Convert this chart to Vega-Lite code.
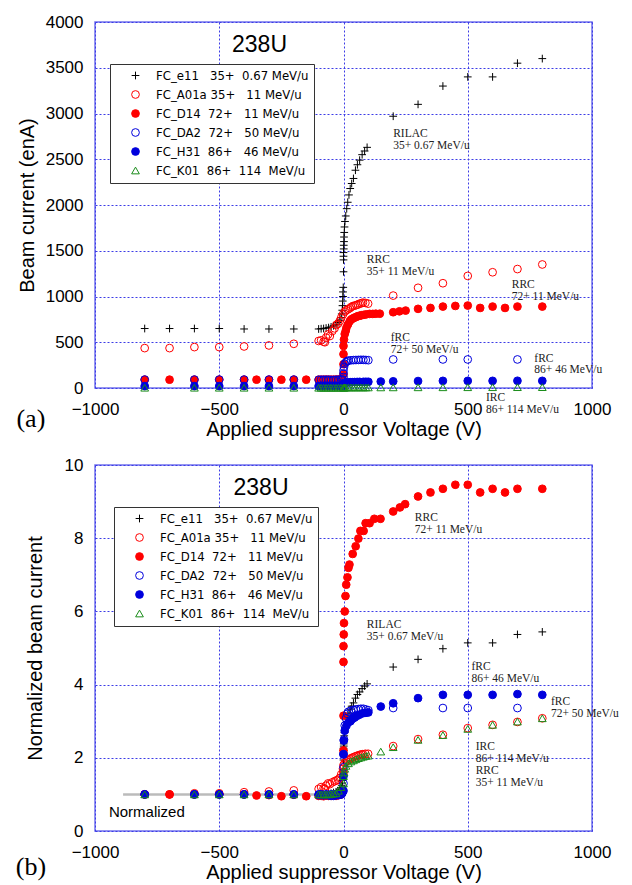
{
  "$schema": "https://vega.github.io/schema/vega-lite/v6.json",
  "background": "white",
  "padding": {"left": 14, "top": 12, "right": 5, "bottom": 5},
  "spacing": 15,
  "config": {
    "view": {"stroke": "#7272ee", "strokeWidth": 1.5},
    "axis": {"domain": false, "ticks": false, "tickSize": 0, "grid": true, "gridColor": "#3c3ce6", "gridDash": [2, 2], "gridWidth": 1, "format": "d",
      "labelFont": "Liberation Sans", "labelFontSize": 17, "labelColor": "#000000", "labelFlush": false, "labelOverlap": false,
      "titleFont": "Liberation Sans", "titleFontSize": 20, "titleFontWeight": "normal", "titleColor": "#000000"},
    "axisX": {"labelPadding": 13, "titlePadding": 2},
    "axisY": {"labelPadding": 12}
  },
  "datasets": {
    "top": [
      {"s":"e11","x":-800,"y":650},{"s":"e11","x":-700,"y":650},{"s":"e11","x":-600,"y":650},{"s":"e11","x":-500,"y":650},{"s":"e11","x":-400,"y":645},{"s":"e11","x":-300,"y":645},{"s":"e11","x":-200,"y":645},
      {"s":"e11","x":-100,"y":645},{"s":"e11","x":-90,"y":648},{"s":"e11","x":-80,"y":650},{"s":"e11","x":-70,"y":655},{"s":"e11","x":-60,"y":660},{"s":"e11","x":-50,"y":668},{"s":"e11","x":-40,"y":680},{"s":"e11","x":-30,"y":695},{"s":"e11","x":-22,"y":715},{"s":"e11","x":-15,"y":740},{"s":"e11","x":-10,"y":770},{"s":"e11","x":-7,"y":810},{"s":"e11","x":-5,"y":850},{"s":"e11","x":-4,"y":900},{"s":"e11","x":-3,"y":950},{"s":"e11","x":-2,"y":1000},{"s":"e11","x":-2,"y":1050},{"s":"e11","x":-1,"y":1100},
      {"s":"e11","x":0,"y":1270},{"s":"e11","x":0,"y":1400},{"s":"e11","x":0,"y":1440},{"s":"e11","x":0,"y":1480},{"s":"e11","x":1,"y":1520},{"s":"e11","x":1,"y":1560},{"s":"e11","x":2,"y":1600},{"s":"e11","x":2,"y":1650},{"s":"e11","x":3,"y":1700},{"s":"e11","x":4,"y":1760},{"s":"e11","x":6,"y":1820},{"s":"e11","x":9,"y":1880},{"s":"e11","x":13,"y":1960},{"s":"e11","x":17,"y":2030},{"s":"e11","x":22,"y":2110},{"s":"e11","x":27,"y":2180},{"s":"e11","x":33,"y":2235},{"s":"e11","x":40,"y":2290},{"s":"e11","x":48,"y":2380},{"s":"e11","x":56,"y":2440},{"s":"e11","x":65,"y":2490},{"s":"e11","x":75,"y":2550},{"s":"e11","x":85,"y":2590},{"s":"e11","x":95,"y":2630},
      {"s":"e11","x":200,"y":2970},{"s":"e11","x":300,"y":3100},{"s":"e11","x":400,"y":3300},{"s":"e11","x":500,"y":3400},{"s":"e11","x":600,"y":3400},{"s":"e11","x":700,"y":3550},{"s":"e11","x":800,"y":3600},

      {"s":"A01a","x":-800,"y":436},{"s":"A01a","x":-700,"y":436},{"s":"A01a","x":-600,"y":447},{"s":"A01a","x":-500,"y":447},{"s":"A01a","x":-400,"y":454},{"s":"A01a","x":-300,"y":465},{"s":"A01a","x":-200,"y":483},
      {"s":"A01a","x":-100,"y":514},{"s":"A01a","x":-90,"y":521},{"s":"A01a","x":-80,"y":506},{"s":"A01a","x":-75,"y":500},{"s":"A01a","x":-70,"y":550},{"s":"A01a","x":-62,"y":586},{"s":"A01a","x":-55,"y":568},{"s":"A01a","x":-45,"y":623},{"s":"A01a","x":-36,"y":652},{"s":"A01a","x":-29,"y":689},{"s":"A01a","x":-22,"y":703},{"s":"A01a","x":-15,"y":732},{"s":"A01a","x":-9,"y":769},{"s":"A01a","x":-2,"y":805},{"s":"A01a","x":5,"y":834},{"s":"A01a","x":11,"y":849},{"s":"A01a","x":18,"y":860},{"s":"A01a","x":25,"y":871},{"s":"A01a","x":31,"y":885},{"s":"A01a","x":38,"y":896},{"s":"A01a","x":45,"y":900},{"s":"A01a","x":52,"y":907},{"s":"A01a","x":58,"y":912},{"s":"A01a","x":65,"y":922},{"s":"A01a","x":72,"y":926},{"s":"A01a","x":78,"y":933},{"s":"A01a","x":88,"y":930},{"s":"A01a","x":99,"y":922},
      {"s":"A01a","x":200,"y":1010},{"s":"A01a","x":300,"y":1095},{"s":"A01a","x":400,"y":1145},{"s":"A01a","x":500,"y":1225},{"s":"A01a","x":600,"y":1265},{"s":"A01a","x":700,"y":1300},{"s":"A01a","x":800,"y":1350},

      {"s":"D14","x":-800,"y":91},{"s":"D14","x":-700,"y":91},{"s":"D14","x":-600,"y":91},{"s":"D14","x":-500,"y":91},{"s":"D14","x":-400,"y":91},{"s":"D14","x":-350,"y":91},{"s":"D14","x":-300,"y":91},{"s":"D14","x":-250,"y":91},{"s":"D14","x":-200,"y":91},{"s":"D14","x":-150,"y":91},{"s":"D14","x":-100,"y":91},
      {"s":"D14","x":-90,"y":91},{"s":"D14","x":-80,"y":91},{"s":"D14","x":-70,"y":92},{"s":"D14","x":-60,"y":92},{"s":"D14","x":-50,"y":91},{"s":"D14","x":-40,"y":91},{"s":"D14","x":-30,"y":92},{"s":"D14","x":-20,"y":93},{"s":"D14","x":-10,"y":95},{"s":"D14","x":-5,"y":100},
      {"s":"D14","x":0,"y":150},{"s":"D14","x":0,"y":260},{"s":"D14","x":0,"y":370},{"s":"D14","x":0,"y":460},{"s":"D14","x":2,"y":530},{"s":"D14","x":5,"y":590},{"s":"D14","x":9,"y":625},{"s":"D14","x":12,"y":660},{"s":"D14","x":18,"y":695},{"s":"D14","x":25,"y":730},{"s":"D14","x":31,"y":750},{"s":"D14","x":38,"y":760},{"s":"D14","x":45,"y":770},{"s":"D14","x":52,"y":778},{"s":"D14","x":58,"y":785},{"s":"D14","x":65,"y":790},{"s":"D14","x":72,"y":795},{"s":"D14","x":82,"y":800},{"s":"D14","x":92,"y":805},{"s":"D14","x":105,"y":810},{"s":"D14","x":118,"y":810},{"s":"D14","x":130,"y":812},{"s":"D14","x":146,"y":812},
      {"s":"D14","x":200,"y":828},{"s":"D14","x":225,"y":838},{"s":"D14","x":250,"y":846},{"s":"D14","x":300,"y":865},{"s":"D14","x":350,"y":875},{"s":"D14","x":400,"y":890},{"s":"D14","x":450,"y":897},{"s":"D14","x":500,"y":901},{"s":"D14","x":550,"y":875},{"s":"D14","x":600,"y":890},{"s":"D14","x":650,"y":875},{"s":"D14","x":700,"y":890},{"s":"D14","x":800,"y":890},

      {"s":"DA2","x":-800,"y":92},{"s":"DA2","x":-600,"y":92},{"s":"DA2","x":-500,"y":92},{"s":"DA2","x":-400,"y":92},{"s":"DA2","x":-300,"y":92},{"s":"DA2","x":-200,"y":92},
      {"s":"DA2","x":-100,"y":90},{"s":"DA2","x":-90,"y":90},{"s":"DA2","x":-80,"y":90},{"s":"DA2","x":-70,"y":90},{"s":"DA2","x":-60,"y":90},{"s":"DA2","x":-50,"y":88},{"s":"DA2","x":-40,"y":88},{"s":"DA2","x":-30,"y":90},{"s":"DA2","x":-20,"y":90},{"s":"DA2","x":-10,"y":92},{"s":"DA2","x":-5,"y":95},
      {"s":"DA2","x":0,"y":120},{"s":"DA2","x":0,"y":160},{"s":"DA2","x":0,"y":192},{"s":"DA2","x":2,"y":230},{"s":"DA2","x":5,"y":265},{"s":"DA2","x":10,"y":283},{"s":"DA2","x":15,"y":294},{"s":"DA2","x":20,"y":300},{"s":"DA2","x":30,"y":303},{"s":"DA2","x":40,"y":305},{"s":"DA2","x":50,"y":306},{"s":"DA2","x":60,"y":307},{"s":"DA2","x":70,"y":308},{"s":"DA2","x":80,"y":308},{"s":"DA2","x":90,"y":306},{"s":"DA2","x":100,"y":304},
      {"s":"DA2","x":200,"y":312},{"s":"DA2","x":400,"y":312},{"s":"DA2","x":500,"y":312},{"s":"DA2","x":700,"y":312},

      {"s":"H31","x":-800,"y":21},{"s":"H31","x":-600,"y":21},{"s":"H31","x":-500,"y":21},{"s":"H31","x":-400,"y":21},{"s":"H31","x":-300,"y":21},{"s":"H31","x":-200,"y":21},
      {"s":"H31","x":-100,"y":21},{"s":"H31","x":-90,"y":21},{"s":"H31","x":-80,"y":20},{"s":"H31","x":-70,"y":21},{"s":"H31","x":-60,"y":20},{"s":"H31","x":-50,"y":21},{"s":"H31","x":-40,"y":21},{"s":"H31","x":-30,"y":20},{"s":"H31","x":-20,"y":21},{"s":"H31","x":-10,"y":21},{"s":"H31","x":-5,"y":22},
      {"s":"H31","x":0,"y":23},{"s":"H31","x":0,"y":31},{"s":"H31","x":0,"y":44},{"s":"H31","x":1,"y":52},{"s":"H31","x":5,"y":57},{"s":"H31","x":12,"y":60},{"s":"H31","x":20,"y":62},{"s":"H31","x":28,"y":63},{"s":"H31","x":35,"y":64},{"s":"H31","x":45,"y":65},{"s":"H31","x":55,"y":66},{"s":"H31","x":65,"y":67},{"s":"H31","x":80,"y":67.6},{"s":"H31","x":90,"y":68},{"s":"H31","x":100,"y":68},
      {"s":"H31","x":150,"y":71},{"s":"H31","x":200,"y":73},{"s":"H31","x":300,"y":76},{"s":"H31","x":400,"y":78},{"s":"H31","x":500,"y":78},{"s":"H31","x":600,"y":78},{"s":"H31","x":700,"y":79},{"s":"H31","x":800,"y":78},

      {"s":"K01","x":-800,"y":3},{"s":"K01","x":-600,"y":3},{"s":"K01","x":-500,"y":3},{"s":"K01","x":-400,"y":3},{"s":"K01","x":-300,"y":3},{"s":"K01","x":-200,"y":3},
      {"s":"K01","x":-100,"y":3},{"s":"K01","x":-90,"y":3},{"s":"K01","x":-80,"y":3},{"s":"K01","x":-70,"y":3},{"s":"K01","x":-60,"y":3},{"s":"K01","x":-50,"y":3},{"s":"K01","x":-40,"y":3},{"s":"K01","x":-30,"y":3},{"s":"K01","x":-20,"y":3.3},{"s":"K01","x":-10,"y":3.6},
      {"s":"K01","x":0,"y":3.9},{"s":"K01","x":0,"y":4.5},{"s":"K01","x":2,"y":4.8},{"s":"K01","x":5,"y":5.1},{"s":"K01","x":10,"y":5.3},{"s":"K01","x":20,"y":5.6},{"s":"K01","x":30,"y":5.7},{"s":"K01","x":40,"y":5.8},{"s":"K01","x":50,"y":5.9},{"s":"K01","x":60,"y":6.0},{"s":"K01","x":70,"y":6.0},{"s":"K01","x":80,"y":6.1},{"s":"K01","x":90,"y":6.15},{"s":"K01","x":100,"y":6.2},
      {"s":"K01","x":150,"y":6.5},{"s":"K01","x":200,"y":6.9},{"s":"K01","x":300,"y":7.5},{"s":"K01","x":400,"y":7.9},{"s":"K01","x":500,"y":8.4},{"s":"K01","x":600,"y":8.7},{"s":"K01","x":700,"y":9.0},{"s":"K01","x":800,"y":9.2}
    ],
    "bot": [
      {"s":"e11","x":-800,"y":1.0},{"s":"e11","x":-700,"y":1.0},{"s":"e11","x":-600,"y":1.0},{"s":"e11","x":-500,"y":1.0},{"s":"e11","x":-400,"y":0.99},{"s":"e11","x":-300,"y":0.99},{"s":"e11","x":-200,"y":0.99},
      {"s":"e11","x":-100,"y":0.99},{"s":"e11","x":-90,"y":1.0},{"s":"e11","x":-80,"y":1.0},{"s":"e11","x":-70,"y":1.01},{"s":"e11","x":-60,"y":1.02},{"s":"e11","x":-50,"y":1.03},{"s":"e11","x":-40,"y":1.05},{"s":"e11","x":-30,"y":1.07},{"s":"e11","x":-22,"y":1.1},{"s":"e11","x":-15,"y":1.14},{"s":"e11","x":-10,"y":1.19},{"s":"e11","x":-7,"y":1.25},{"s":"e11","x":-5,"y":1.31},{"s":"e11","x":-4,"y":1.38},{"s":"e11","x":-3,"y":1.46},{"s":"e11","x":-2,"y":1.54},{"s":"e11","x":-2,"y":1.62},{"s":"e11","x":-1,"y":1.69},
      {"s":"e11","x":0,"y":1.94},{"s":"e11","x":0,"y":2.14},{"s":"e11","x":0,"y":2.2},{"s":"e11","x":0,"y":2.26},{"s":"e11","x":1,"y":2.32},{"s":"e11","x":1,"y":2.38},{"s":"e11","x":2,"y":2.44},{"s":"e11","x":2,"y":2.52},{"s":"e11","x":3,"y":2.6},{"s":"e11","x":4,"y":2.69},{"s":"e11","x":6,"y":2.78},{"s":"e11","x":9,"y":2.87},{"s":"e11","x":13,"y":2.99},{"s":"e11","x":17,"y":3.1},{"s":"e11","x":22,"y":3.22},{"s":"e11","x":27,"y":3.33},{"s":"e11","x":33,"y":3.41},{"s":"e11","x":40,"y":3.5},{"s":"e11","x":48,"y":3.63},{"s":"e11","x":56,"y":3.73},{"s":"e11","x":65,"y":3.8},{"s":"e11","x":75,"y":3.89},{"s":"e11","x":85,"y":3.96},{"s":"e11","x":95,"y":4.02},
      {"s":"e11","x":200,"y":4.48},{"s":"e11","x":300,"y":4.69},{"s":"e11","x":400,"y":4.98},{"s":"e11","x":500,"y":5.14},{"s":"e11","x":600,"y":5.14},{"s":"e11","x":700,"y":5.37},{"s":"e11","x":800,"y":5.44},

      {"s":"A01a","x":-800,"y":1.0},{"s":"A01a","x":-700,"y":1.0},{"s":"A01a","x":-600,"y":1.03},{"s":"A01a","x":-500,"y":1.03},{"s":"A01a","x":-400,"y":1.06},{"s":"A01a","x":-300,"y":1.08},{"s":"A01a","x":-200,"y":1.11},
      {"s":"A01a","x":-100,"y":1.15},{"s":"A01a","x":-90,"y":1.2},{"s":"A01a","x":-80,"y":1.17},{"s":"A01a","x":-75,"y":1.15},{"s":"A01a","x":-70,"y":1.24},{"s":"A01a","x":-62,"y":1.3},{"s":"A01a","x":-55,"y":1.28},{"s":"A01a","x":-45,"y":1.33},{"s":"A01a","x":-36,"y":1.36},{"s":"A01a","x":-29,"y":1.38},{"s":"A01a","x":-22,"y":1.4},{"s":"A01a","x":-15,"y":1.45},{"s":"A01a","x":-9,"y":1.55},{"s":"A01a","x":-2,"y":1.7},{"s":"A01a","x":0,"y":1.8},{"s":"A01a","x":5,"y":1.86},{"s":"A01a","x":11,"y":1.9},{"s":"A01a","x":18,"y":1.93},{"s":"A01a","x":25,"y":1.96},{"s":"A01a","x":31,"y":1.99},{"s":"A01a","x":38,"y":2.01},{"s":"A01a","x":45,"y":2.03},{"s":"A01a","x":52,"y":2.05},{"s":"A01a","x":58,"y":2.06},{"s":"A01a","x":65,"y":2.08},{"s":"A01a","x":72,"y":2.09},{"s":"A01a","x":78,"y":2.1},{"s":"A01a","x":88,"y":2.11},{"s":"A01a","x":99,"y":2.11},
      {"s":"A01a","x":200,"y":2.32},{"s":"A01a","x":300,"y":2.51},{"s":"A01a","x":400,"y":2.63},{"s":"A01a","x":500,"y":2.81},{"s":"A01a","x":600,"y":2.9},{"s":"A01a","x":700,"y":2.98},{"s":"A01a","x":800,"y":3.08},

      {"s":"D14","x":-800,"y":1.0},{"s":"D14","x":-700,"y":1.0},{"s":"D14","x":-600,"y":1.0},{"s":"D14","x":-500,"y":1.0},{"s":"D14","x":-400,"y":1.0},{"s":"D14","x":-350,"y":0.97},{"s":"D14","x":-300,"y":0.98},{"s":"D14","x":-250,"y":0.95},{"s":"D14","x":-200,"y":0.99},{"s":"D14","x":-150,"y":0.95},{"s":"D14","x":-100,"y":0.96},
      {"s":"D14","x":-90,"y":0.96},{"s":"D14","x":-80,"y":0.95},{"s":"D14","x":-70,"y":0.97},{"s":"D14","x":-60,"y":0.96},{"s":"D14","x":-50,"y":0.96},{"s":"D14","x":-40,"y":0.97},{"s":"D14","x":-30,"y":0.96},{"s":"D14","x":-20,"y":0.98},{"s":"D14","x":-10,"y":1.0},{"s":"D14","x":-5,"y":1.05},
      {"s":"D14","x":0,"y":1.6},{"s":"D14","x":0,"y":2.2},{"s":"D14","x":0,"y":3.15},{"s":"D14","x":0,"y":4.62},{"s":"D14","x":0,"y":5.05},{"s":"D14","x":1,"y":5.37},{"s":"D14","x":2,"y":5.68},{"s":"D14","x":5,"y":6.0},{"s":"D14","x":8,"y":6.42},{"s":"D14","x":11,"y":6.73},{"s":"D14","x":16,"y":6.93},{"s":"D14","x":20,"y":7.19},{"s":"D14","x":24,"y":7.28},{"s":"D14","x":37,"y":7.57},{"s":"D14","x":49,"y":7.78},{"s":"D14","x":60,"y":7.99},{"s":"D14","x":68,"y":8.2},{"s":"D14","x":81,"y":8.2},{"s":"D14","x":89,"y":8.41},{"s":"D14","x":105,"y":8.41},{"s":"D14","x":124,"y":8.53},{"s":"D14","x":149,"y":8.53},
      {"s":"D14","x":200,"y":8.73},{"s":"D14","x":227,"y":8.84},{"s":"D14","x":248,"y":8.93},{"s":"D14","x":300,"y":9.14},{"s":"D14","x":350,"y":9.25},{"s":"D14","x":400,"y":9.35},{"s":"D14","x":450,"y":9.46},{"s":"D14","x":500,"y":9.46},{"s":"D14","x":550,"y":9.25},{"s":"D14","x":600,"y":9.35},{"s":"D14","x":650,"y":9.25},{"s":"D14","x":700,"y":9.35},{"s":"D14","x":800,"y":9.35},

      {"s":"DA2","x":-800,"y":1.0},{"s":"DA2","x":-600,"y":1.0},{"s":"DA2","x":-500,"y":1.0},{"s":"DA2","x":-400,"y":1.0},{"s":"DA2","x":-300,"y":1.0},{"s":"DA2","x":-200,"y":1.0},
      {"s":"DA2","x":-100,"y":0.98},{"s":"DA2","x":-90,"y":0.98},{"s":"DA2","x":-80,"y":0.98},{"s":"DA2","x":-70,"y":0.98},{"s":"DA2","x":-60,"y":0.98},{"s":"DA2","x":-50,"y":0.96},{"s":"DA2","x":-40,"y":0.96},{"s":"DA2","x":-30,"y":0.98},{"s":"DA2","x":-20,"y":0.98},{"s":"DA2","x":-10,"y":1.0},{"s":"DA2","x":-5,"y":1.03},
      {"s":"DA2","x":0,"y":1.3},{"s":"DA2","x":0,"y":1.74},{"s":"DA2","x":0,"y":2.09},{"s":"DA2","x":2,"y":2.5},{"s":"DA2","x":5,"y":2.88},{"s":"DA2","x":10,"y":3.08},{"s":"DA2","x":15,"y":3.2},{"s":"DA2","x":20,"y":3.26},{"s":"DA2","x":30,"y":3.29},{"s":"DA2","x":40,"y":3.31},{"s":"DA2","x":50,"y":3.32},{"s":"DA2","x":60,"y":3.33},{"s":"DA2","x":70,"y":3.34},{"s":"DA2","x":80,"y":3.34},{"s":"DA2","x":90,"y":3.32},{"s":"DA2","x":100,"y":3.3},
      {"s":"DA2","x":200,"y":3.36},{"s":"DA2","x":400,"y":3.36},{"s":"DA2","x":500,"y":3.36},{"s":"DA2","x":700,"y":3.36},

      {"s":"H31","x":-800,"y":1.0},{"s":"H31","x":-600,"y":1.0},{"s":"H31","x":-500,"y":1.0},{"s":"H31","x":-400,"y":1.0},{"s":"H31","x":-300,"y":1.0},{"s":"H31","x":-200,"y":1.0},
      {"s":"H31","x":-100,"y":1.0},{"s":"H31","x":-90,"y":1.0},{"s":"H31","x":-80,"y":0.98},{"s":"H31","x":-70,"y":1.0},{"s":"H31","x":-60,"y":0.98},{"s":"H31","x":-50,"y":1.0},{"s":"H31","x":-40,"y":1.0},{"s":"H31","x":-30,"y":0.98},{"s":"H31","x":-20,"y":1.0},{"s":"H31","x":-10,"y":1.0},{"s":"H31","x":-5,"y":1.05},
      {"s":"H31","x":0,"y":1.1},{"s":"H31","x":0,"y":1.5},{"s":"H31","x":0,"y":2.1},{"s":"H31","x":1,"y":2.47},{"s":"H31","x":5,"y":2.74},{"s":"H31","x":12,"y":2.88},{"s":"H31","x":20,"y":2.97},{"s":"H31","x":28,"y":3.0},{"s":"H31","x":35,"y":3.06},{"s":"H31","x":45,"y":3.1},{"s":"H31","x":55,"y":3.15},{"s":"H31","x":65,"y":3.18},{"s":"H31","x":80,"y":3.22},{"s":"H31","x":90,"y":3.23},{"s":"H31","x":100,"y":3.24},
      {"s":"H31","x":150,"y":3.4},{"s":"H31","x":200,"y":3.49},{"s":"H31","x":300,"y":3.63},{"s":"H31","x":400,"y":3.72},{"s":"H31","x":500,"y":3.72},{"s":"H31","x":600,"y":3.72},{"s":"H31","x":700,"y":3.74},{"s":"H31","x":800,"y":3.72},

      {"s":"K01","x":-800,"y":1.0},{"s":"K01","x":-600,"y":1.0},{"s":"K01","x":-500,"y":1.0},{"s":"K01","x":-400,"y":1.0},{"s":"K01","x":-300,"y":1.0},{"s":"K01","x":-200,"y":1.0},
      {"s":"K01","x":-100,"y":1.0},{"s":"K01","x":-90,"y":1.0},{"s":"K01","x":-80,"y":1.0},{"s":"K01","x":-70,"y":1.0},{"s":"K01","x":-60,"y":1.0},{"s":"K01","x":-50,"y":1.01},{"s":"K01","x":-40,"y":1.02},{"s":"K01","x":-30,"y":1.03},{"s":"K01","x":-20,"y":1.1},{"s":"K01","x":-10,"y":1.2},
      {"s":"K01","x":0,"y":1.3},{"s":"K01","x":0,"y":1.5},{"s":"K01","x":2,"y":1.6},{"s":"K01","x":5,"y":1.7},{"s":"K01","x":10,"y":1.78},{"s":"K01","x":20,"y":1.85},{"s":"K01","x":30,"y":1.9},{"s":"K01","x":40,"y":1.93},{"s":"K01","x":50,"y":1.96},{"s":"K01","x":60,"y":1.99},{"s":"K01","x":70,"y":2.01},{"s":"K01","x":80,"y":2.03},{"s":"K01","x":90,"y":2.05},{"s":"K01","x":100,"y":2.06},
      {"s":"K01","x":150,"y":2.17},{"s":"K01","x":200,"y":2.29},{"s":"K01","x":300,"y":2.49},{"s":"K01","x":400,"y":2.62},{"s":"K01","x":500,"y":2.79},{"s":"K01","x":600,"y":2.9},{"s":"K01","x":700,"y":2.99},{"s":"K01","x":800,"y":3.08}
    ],
    "anntop": [
      {"k":"t","t":"238U","x":-338,"y":3750},
      {"k":"r","t":"RILAC","x":200,"y":2771},{"k":"r","t":"35+ 0.67 MeV/u","x":200,"y":2641},
      {"k":"r","t":"RRC","x":94,"y":1398},{"k":"r","t":"35+ 11 MeV/u","x":94,"y":1268},
      {"k":"r","t":"RRC","x":677,"y":1122},{"k":"r","t":"72+ 11 MeV/u","x":677,"y":992},
      {"k":"r","t":"fRC","x":190,"y":548},{"k":"r","t":"72+ 50 MeV/u","x":190,"y":418},
      {"k":"r","t":"fRC","x":768,"y":322},{"k":"r","t":"86+ 46 MeV/u","x":768,"y":192},
      {"k":"r","t":"IRC","x":573,"y":-110},{"k":"r","t":"86+ 114 MeV/u","x":573,"y":-240},
      {"k":"p","t":"(a)","x":-1258,"y":-339}
    ],
    "annbot": [
      {"k":"t","t":"238U","x":-332,"y":9.36},
      {"k":"r","t":"RRC","x":287,"y":8.55},{"k":"r","t":"72+ 11 MeV/u","x":287,"y":8.22},
      {"k":"r","t":"RILAC","x":94,"y":5.62},{"k":"r","t":"35+ 0.67 MeV/u","x":94,"y":5.29},
      {"k":"r","t":"fRC","x":515,"y":4.48},{"k":"r","t":"86+ 46 MeV/u","x":515,"y":4.15},
      {"k":"r","t":"fRC","x":835,"y":3.53},{"k":"r","t":"72+ 50 MeV/u","x":835,"y":3.2},
      {"k":"r","t":"IRC","x":532,"y":2.29},{"k":"r","t":"86+ 114 MeV/u","x":532,"y":1.97},
      {"k":"r","t":"RRC","x":532,"y":1.64},{"k":"r","t":"35+ 11 MeV/u","x":532,"y":1.31},
      {"k":"n","t":"Normalized","x":-944,"y":0.52},
      {"k":"p","t":"(b)","x":-1258,"y":-0.98}
    ],
    "normline": [{"x":-887,"x2":0,"y":1}]
  },
  "resolve": {"scale": {"shape": "independent", "stroke": "independent", "fill": "independent"}, "legend": {"shape": "independent", "stroke": "independent", "fill": "independent"}},
  "vconcat": [
    {
      "width": 497, "height": 366,
      "encoding": {
        "x": {"field": "x", "type": "quantitative", "scale": {"domain": [-1000, 1000], "nice": false, "zero": false}, "axis": {"values": [-1000, -500, 0, 500, 1000], "title": "Applied suppressor Voltage (V)"}},
        "y": {"field": "y", "type": "quantitative", "scale": {"domain": [0, 4000], "nice": false}, "axis": {"values": [0, 500, 1000, 1500, 2000, 2500, 3000, 3500, 4000], "title": "Beam current (enA)", "titlePadding": 8}}
      },
      "layer": [
        {
          "data": {"name": "top"},
          "mark": {"type": "point", "size": 60, "strokeWidth": 1, "opacity": 1},
          "encoding": {
            "shape": {"field": "s", "type": "nominal", "scale": {"domain": ["e11","A01a","D14","DA2","H31","K01"], "range": ["M-1,0H1M0,-1V1","circle","circle","circle","circle","triangle-up"]},
              "legend": {"orient": "none", "legendX": 15, "legendY": 42, "title": null, "fillColor": "#ffffff", "strokeColor": "#333333", "padding": 5, "symbolOffset": 14, "symbolSize": 60, "symbolStrokeWidth": 1, "labelFont": "DejaVu Sans Condensed, Liberation Sans", "labelFontSize": 13, "labelOffset": 14, "rowPadding": 5, "labelLimit": 400,
                "labelExpr": "datum.value=='e11'?'FC_e11\u00a0\u00a0\u00a035+\u00a0\u00a00.67\u00a0MeV/u\u00a0\u00a0\u00a0':datum.value=='A01a'?'FC_A01a\u00a035+\u00a0\u00a0\u00a011\u00a0MeV/u':datum.value=='D14'?'FC_D14\u00a0\u00a072+\u00a0\u00a0\u00a011\u00a0MeV/u':datum.value=='DA2'?'FC_DA2\u00a0\u00a072+\u00a0\u00a0\u00a050\u00a0MeV/u':datum.value=='H31'?'FC_H31\u00a0\u00a086+\u00a0\u00a0\u00a046\u00a0MeV/u':'FC_K01\u00a0\u00a086+\u00a0\u00a0114\u00a0\u00a0MeV/u'",
                "encode": {"labels": {"update": {"fill": {"signal": "datum.value=='e11'?'#000000':(datum.value=='A01a'||datum.value=='D14')?'#ee0000':(datum.value=='DA2'||datum.value=='H31')?'#0000cc':'#1a8c1a'"}}}}}},
            "stroke": {"field": "s", "type": "nominal", "scale": {"domain": ["e11","A01a","D14","DA2","H31","K01"], "range": ["#000000","#ff0000","#ff0000","#0000dd","#0000dd","#1a8c1a"]},
              "legend": {"orient": "none", "legendX": 15, "legendY": 42, "title": null, "fillColor": "#ffffff", "strokeColor": "#333333", "padding": 5, "symbolOffset": 14, "symbolSize": 60, "symbolStrokeWidth": 1, "labelFont": "DejaVu Sans Condensed, Liberation Sans", "labelFontSize": 13, "labelOffset": 14, "rowPadding": 5, "labelLimit": 400,
                "labelExpr": "datum.value=='e11'?'FC_e11\u00a0\u00a0\u00a035+\u00a0\u00a00.67\u00a0MeV/u\u00a0\u00a0\u00a0':datum.value=='A01a'?'FC_A01a\u00a035+\u00a0\u00a0\u00a011\u00a0MeV/u':datum.value=='D14'?'FC_D14\u00a0\u00a072+\u00a0\u00a0\u00a011\u00a0MeV/u':datum.value=='DA2'?'FC_DA2\u00a0\u00a072+\u00a0\u00a0\u00a050\u00a0MeV/u':datum.value=='H31'?'FC_H31\u00a0\u00a086+\u00a0\u00a0\u00a046\u00a0MeV/u':'FC_K01\u00a0\u00a086+\u00a0\u00a0114\u00a0\u00a0MeV/u'",
                "encode": {"labels": {"update": {"fill": {"signal": "datum.value=='e11'?'#000000':(datum.value=='A01a'||datum.value=='D14')?'#ee0000':(datum.value=='DA2'||datum.value=='H31')?'#0000cc':'#1a8c1a'"}}}}}},
            "fill": {"field": "s", "type": "nominal", "scale": {"domain": ["e11","A01a","D14","DA2","H31","K01"], "range": ["transparent","transparent","#ff0000","transparent","#0000dd","transparent"]},
              "legend": {"orient": "none", "legendX": 15, "legendY": 42, "title": null, "fillColor": "#ffffff", "strokeColor": "#333333", "padding": 5, "symbolOffset": 14, "symbolSize": 60, "symbolStrokeWidth": 1, "labelFont": "DejaVu Sans Condensed, Liberation Sans", "labelFontSize": 13, "labelOffset": 14, "rowPadding": 5, "labelLimit": 400,
                "labelExpr": "datum.value=='e11'?'FC_e11\u00a0\u00a0\u00a035+\u00a0\u00a00.67\u00a0MeV/u\u00a0\u00a0\u00a0':datum.value=='A01a'?'FC_A01a\u00a035+\u00a0\u00a0\u00a011\u00a0MeV/u':datum.value=='D14'?'FC_D14\u00a0\u00a072+\u00a0\u00a0\u00a011\u00a0MeV/u':datum.value=='DA2'?'FC_DA2\u00a0\u00a072+\u00a0\u00a0\u00a050\u00a0MeV/u':datum.value=='H31'?'FC_H31\u00a0\u00a086+\u00a0\u00a0\u00a046\u00a0MeV/u':'FC_K01\u00a0\u00a086+\u00a0\u00a0114\u00a0\u00a0MeV/u'",
                "encode": {"labels": {"update": {"fill": {"signal": "datum.value=='e11'?'#000000':(datum.value=='A01a'||datum.value=='D14')?'#ee0000':(datum.value=='DA2'||datum.value=='H31')?'#0000cc':'#1a8c1a'"}}}}}}
          }
        },
        {"data": {"name": "anntop"}, "transform": [{"filter": "datum.k == 'r'"}], "mark": {"type": "text", "font": "Liberation Serif", "fontSize": 11.5, "align": "left", "baseline": "middle", "color": "#222222"}, "encoding": {"text": {"field": "t"}}},
        {"data": {"name": "anntop"}, "transform": [{"filter": "datum.k == 't'"}], "mark": {"type": "text", "font": "Liberation Sans", "fontSize": 23, "align": "center", "baseline": "middle", "color": "#000000"}, "encoding": {"text": {"field": "t"}}},
        {"data": {"name": "anntop"}, "transform": [{"filter": "datum.k == 'p'"}], "mark": {"type": "text", "font": "Liberation Serif", "fontSize": 26, "align": "center", "baseline": "middle", "color": "#000000"}, "encoding": {"text": {"field": "t"}}}
      ]
    },
    {
      "width": 497, "height": 366,
      "encoding": {
        "x": {"field": "x", "type": "quantitative", "scale": {"domain": [-1000, 1000], "nice": false, "zero": false}, "axis": {"values": [-1000, -500, 0, 500, 1000], "title": "Applied suppressor Voltage (V)"}},
        "y": {"field": "y", "type": "quantitative", "scale": {"domain": [0, 10], "nice": false}, "axis": {"values": [0, 2, 4, 6, 8, 10], "title": "Normalized beam current", "titlePadding": 19}}
      },
      "layer": [
        {"data": {"name": "normline"}, "mark": {"type": "rule", "color": "#bbbbbb", "strokeWidth": 2.5}, "encoding": {"x2": {"field": "x2"}}},
        {
          "data": {"name": "bot"},
          "mark": {"type": "point", "size": 60, "strokeWidth": 1, "opacity": 1},
          "encoding": {
            "shape": {"field": "s", "type": "nominal", "scale": {"domain": ["e11","A01a","D14","DA2","H31","K01"], "range": ["M-1,0H1M0,-1V1","circle","circle","circle","circle","triangle-up"]},
              "legend": {"orient": "none", "legendX": 19, "legendY": 42, "title": null, "fillColor": "#ffffff", "strokeColor": "#333333", "padding": 5, "symbolOffset": 14, "symbolSize": 60, "symbolStrokeWidth": 1, "labelFont": "DejaVu Sans Condensed, Liberation Sans", "labelFontSize": 13, "labelOffset": 14, "rowPadding": 5, "labelLimit": 400,
                "labelExpr": "datum.value=='e11'?'FC_e11\u00a0\u00a0\u00a035+\u00a0\u00a00.67\u00a0MeV/u\u00a0\u00a0\u00a0\u00a0\u00a0\u00a0':datum.value=='A01a'?'FC_A01a\u00a035+\u00a0\u00a0\u00a011\u00a0MeV/u':datum.value=='D14'?'FC_D14\u00a0\u00a072+\u00a0\u00a0\u00a011\u00a0MeV/u':datum.value=='DA2'?'FC_DA2\u00a0\u00a072+\u00a0\u00a0\u00a050\u00a0MeV/u':datum.value=='H31'?'FC_H31\u00a0\u00a086+\u00a0\u00a0\u00a046\u00a0MeV/u':'FC_K01\u00a0\u00a086+\u00a0\u00a0114\u00a0\u00a0MeV/u'",
                "encode": {"labels": {"update": {"fill": {"signal": "datum.value=='e11'?'#000000':(datum.value=='A01a'||datum.value=='D14')?'#ee0000':(datum.value=='DA2'||datum.value=='H31')?'#0000cc':'#1a8c1a'"}}}}}},
            "stroke": {"field": "s", "type": "nominal", "scale": {"domain": ["e11","A01a","D14","DA2","H31","K01"], "range": ["#000000","#ff0000","#ff0000","#0000dd","#0000dd","#1a8c1a"]},
              "legend": {"orient": "none", "legendX": 19, "legendY": 42, "title": null, "fillColor": "#ffffff", "strokeColor": "#333333", "padding": 5, "symbolOffset": 14, "symbolSize": 60, "symbolStrokeWidth": 1, "labelFont": "DejaVu Sans Condensed, Liberation Sans", "labelFontSize": 13, "labelOffset": 14, "rowPadding": 5, "labelLimit": 400,
                "labelExpr": "datum.value=='e11'?'FC_e11\u00a0\u00a0\u00a035+\u00a0\u00a00.67\u00a0MeV/u\u00a0\u00a0\u00a0\u00a0\u00a0\u00a0':datum.value=='A01a'?'FC_A01a\u00a035+\u00a0\u00a0\u00a011\u00a0MeV/u':datum.value=='D14'?'FC_D14\u00a0\u00a072+\u00a0\u00a0\u00a011\u00a0MeV/u':datum.value=='DA2'?'FC_DA2\u00a0\u00a072+\u00a0\u00a0\u00a050\u00a0MeV/u':datum.value=='H31'?'FC_H31\u00a0\u00a086+\u00a0\u00a0\u00a046\u00a0MeV/u':'FC_K01\u00a0\u00a086+\u00a0\u00a0114\u00a0\u00a0MeV/u'",
                "encode": {"labels": {"update": {"fill": {"signal": "datum.value=='e11'?'#000000':(datum.value=='A01a'||datum.value=='D14')?'#ee0000':(datum.value=='DA2'||datum.value=='H31')?'#0000cc':'#1a8c1a'"}}}}}},
            "fill": {"field": "s", "type": "nominal", "scale": {"domain": ["e11","A01a","D14","DA2","H31","K01"], "range": ["transparent","transparent","#ff0000","transparent","#0000dd","transparent"]},
              "legend": {"orient": "none", "legendX": 19, "legendY": 42, "title": null, "fillColor": "#ffffff", "strokeColor": "#333333", "padding": 5, "symbolOffset": 14, "symbolSize": 60, "symbolStrokeWidth": 1, "labelFont": "DejaVu Sans Condensed, Liberation Sans", "labelFontSize": 13, "labelOffset": 14, "rowPadding": 5, "labelLimit": 400,
                "labelExpr": "datum.value=='e11'?'FC_e11\u00a0\u00a0\u00a035+\u00a0\u00a00.67\u00a0MeV/u\u00a0\u00a0\u00a0\u00a0\u00a0\u00a0':datum.value=='A01a'?'FC_A01a\u00a035+\u00a0\u00a0\u00a011\u00a0MeV/u':datum.value=='D14'?'FC_D14\u00a0\u00a072+\u00a0\u00a0\u00a011\u00a0MeV/u':datum.value=='DA2'?'FC_DA2\u00a0\u00a072+\u00a0\u00a0\u00a050\u00a0MeV/u':datum.value=='H31'?'FC_H31\u00a0\u00a086+\u00a0\u00a0\u00a046\u00a0MeV/u':'FC_K01\u00a0\u00a086+\u00a0\u00a0114\u00a0\u00a0MeV/u'",
                "encode": {"labels": {"update": {"fill": {"signal": "datum.value=='e11'?'#000000':(datum.value=='A01a'||datum.value=='D14')?'#ee0000':(datum.value=='DA2'||datum.value=='H31')?'#0000cc':'#1a8c1a'"}}}}}}
          }
        },
        {"data": {"name": "annbot"}, "transform": [{"filter": "datum.k == 'r'"}], "mark": {"type": "text", "font": "Liberation Serif", "fontSize": 11.5, "align": "left", "baseline": "middle", "color": "#222222"}, "encoding": {"text": {"field": "t"}}},
        {"data": {"name": "annbot"}, "transform": [{"filter": "datum.k == 't'"}], "mark": {"type": "text", "font": "Liberation Sans", "fontSize": 23, "align": "center", "baseline": "middle", "color": "#000000"}, "encoding": {"text": {"field": "t"}}},
        {"data": {"name": "annbot"}, "transform": [{"filter": "datum.k == 'n'"}], "mark": {"type": "text", "font": "Liberation Sans", "fontSize": 15, "align": "left", "baseline": "middle", "color": "#000000"}, "encoding": {"text": {"field": "t"}}},
        {"data": {"name": "annbot"}, "transform": [{"filter": "datum.k == 'p'"}], "mark": {"type": "text", "font": "Liberation Serif", "fontSize": 26, "align": "center", "baseline": "middle", "color": "#000000"}, "encoding": {"text": {"field": "t"}}}
      ]
    }
  ]
}
